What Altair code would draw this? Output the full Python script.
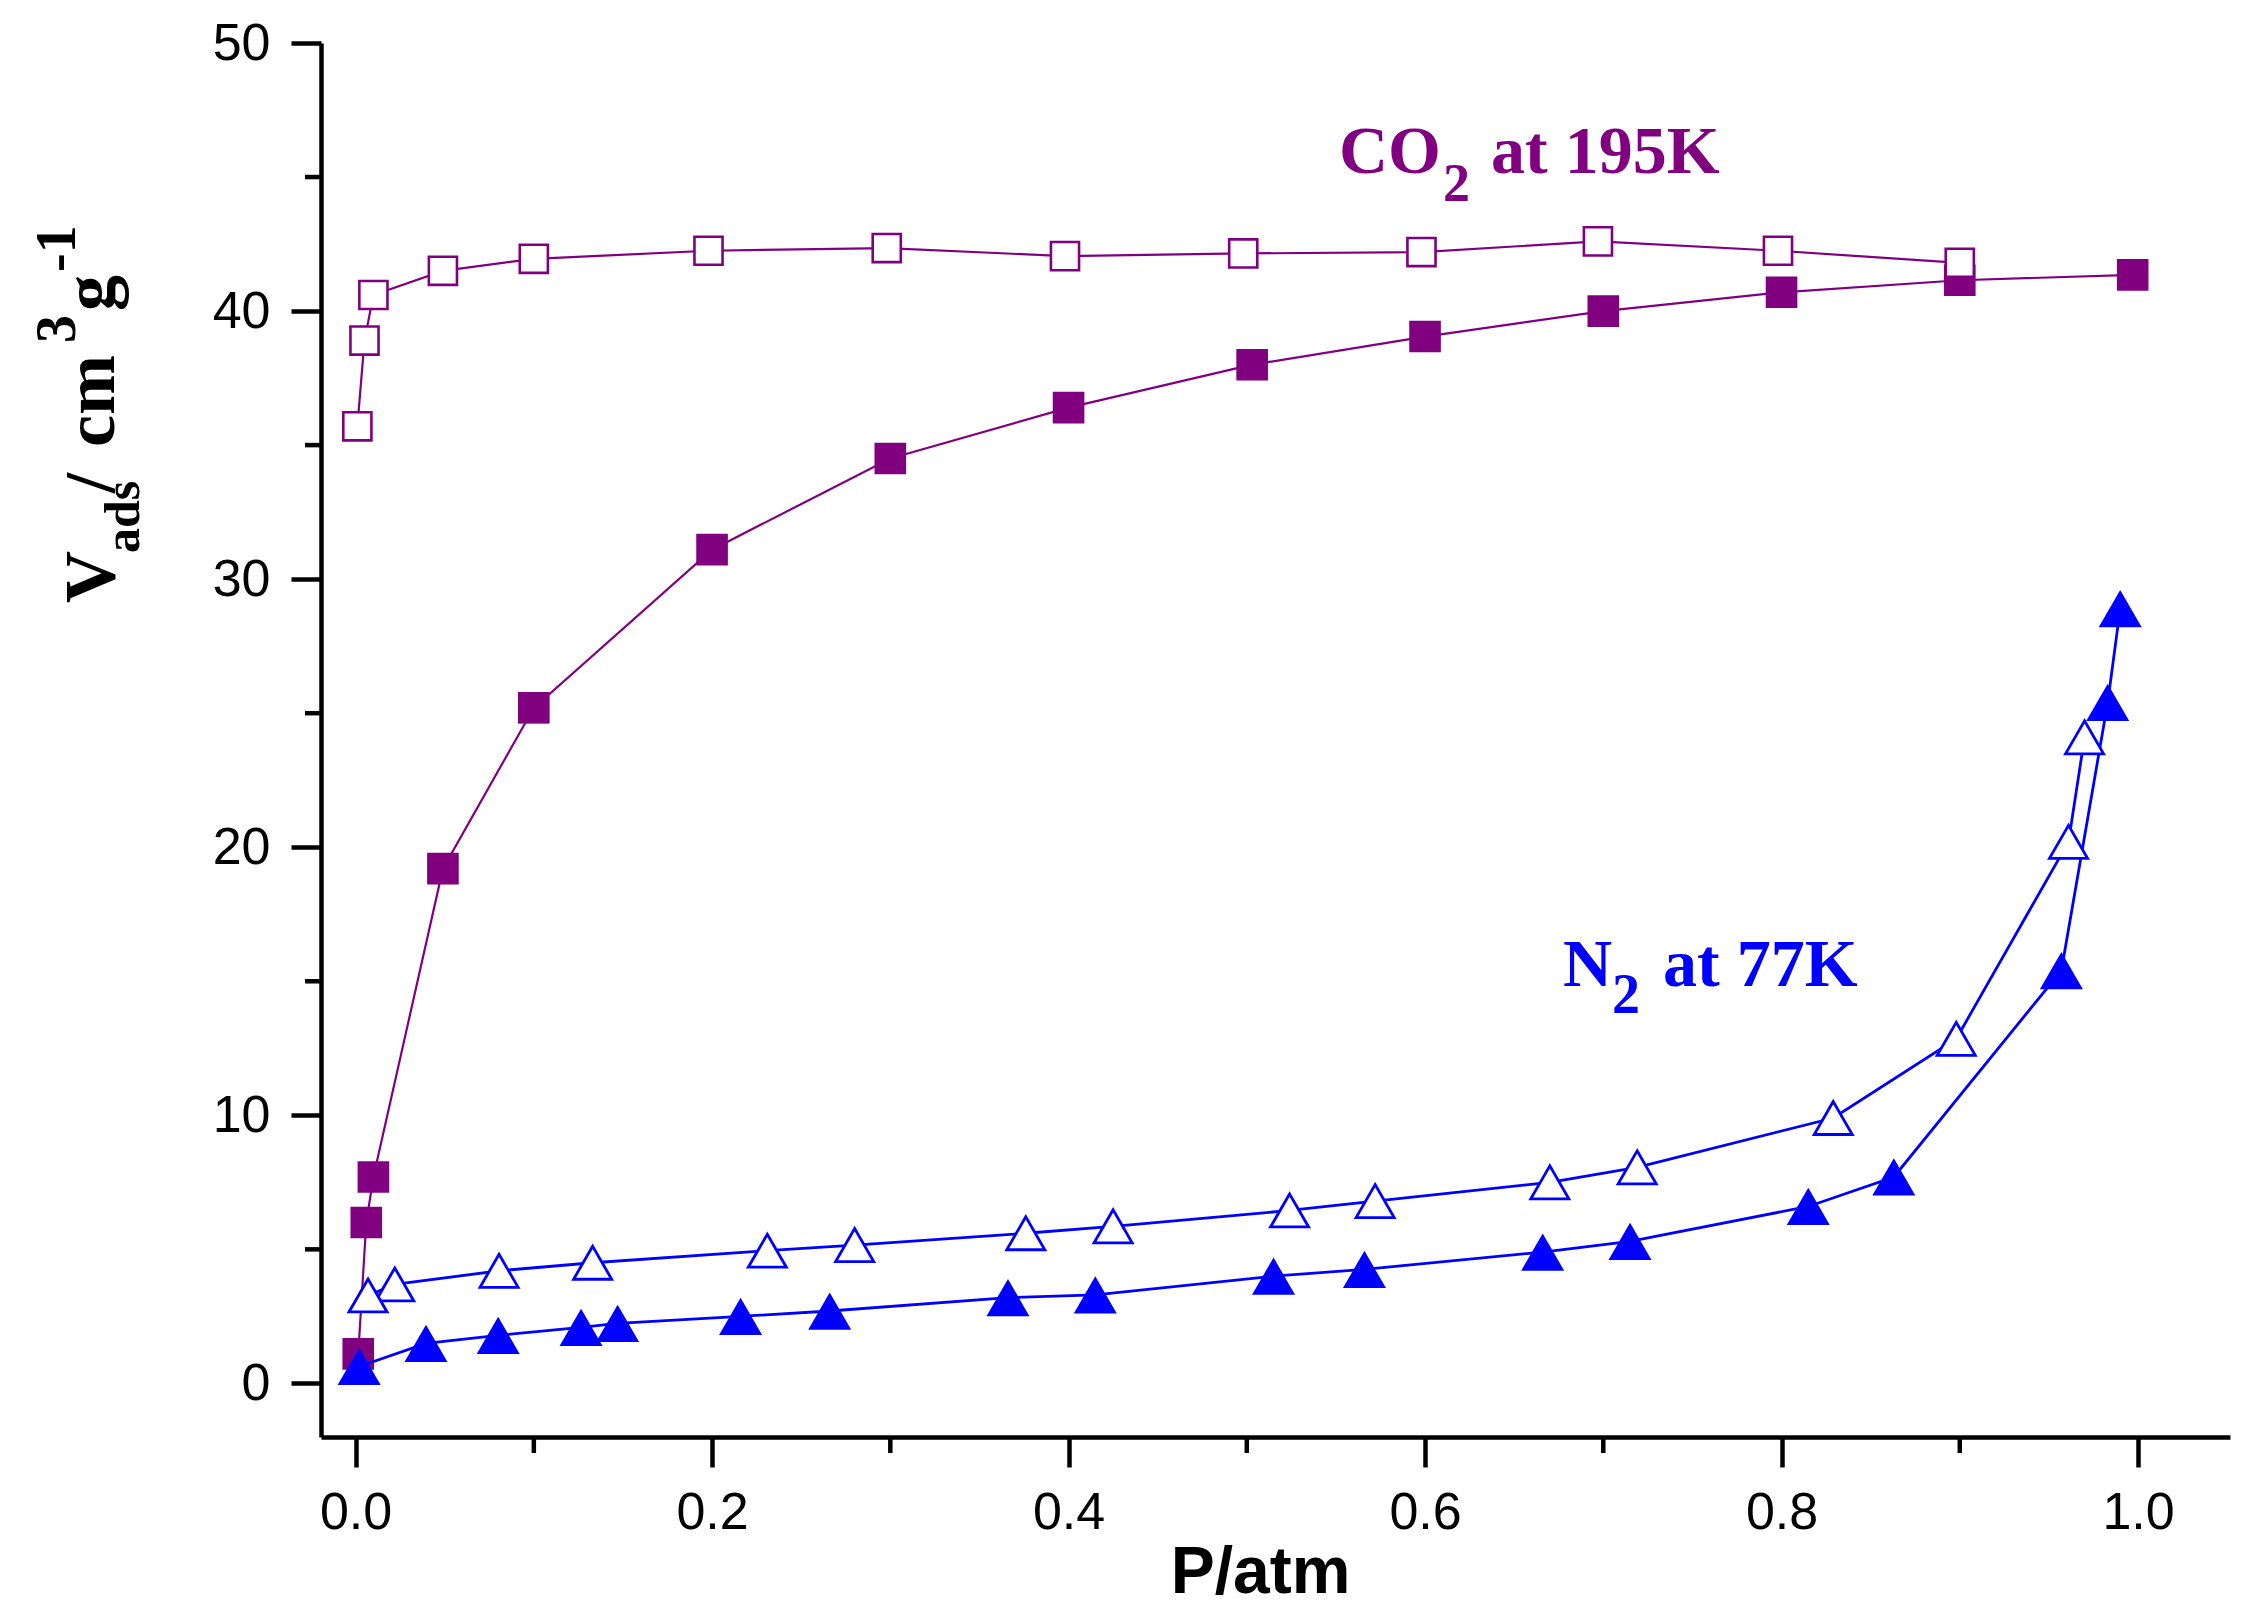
import altair as alt
import pandas as pd

# ---------------- data ----------------
co2_ads_p = [0.0015, 0.006, 0.010, 0.049, 0.100, 0.200, 0.300, 0.400, 0.503, 0.600, 0.700, 0.800, 0.900, 0.997]
co2_ads_v = [1.1, 6.0, 7.7, 19.2, 25.2, 31.1, 34.5, 36.4, 38.0, 39.05, 40.0, 40.7, 41.15, 41.35]

co2_des_p = [0.900, 0.798, 0.697, 0.598, 0.498, 0.398, 0.298, 0.198, 0.100, 0.049, 0.010, 0.005, 0.001]
co2_des_v = [41.8, 42.25, 42.6, 42.2, 42.15, 42.05, 42.35, 42.25, 41.95, 41.5, 40.6, 38.9, 35.7]

n2_ads_p = [0.002, 0.0395, 0.080, 0.1265, 0.147, 0.216, 0.266, 0.366, 0.415, 0.515, 0.566, 0.666, 0.715,
            0.815, 0.863, 0.957, 0.983, 0.990]
n2_ads_v = [0.63, 1.49, 1.79, 2.09, 2.24, 2.5, 2.7, 3.2, 3.3, 4.0, 4.25, 4.9, 5.3,
            6.6, 7.7, 15.4, 25.4, 28.9]

n2_des_p = [0.970, 0.961, 0.898, 0.829, 0.719, 0.670, 0.572, 0.524, 0.425, 0.376, 0.280, 0.231, 0.133,
            0.0805, 0.022, 0.007]
n2_des_v = [24.1, 20.2, 12.85, 9.9, 8.06, 7.5, 6.8, 6.45, 5.86, 5.6, 5.16, 4.95, 4.5,
            4.2, 3.69, 3.28]

x_ticks = [0.0, 0.2, 0.4, 0.6, 0.8, 1.0]
x_minor = [0.1, 0.3, 0.5, 0.7, 0.9]
y_ticks = [0, 10, 20, 30, 40, 50]
y_minor = [5, 15, 25, 35, 45]

x_title = "P/atm"
co2_label = ["CO", "2", "at 195K"]
n2_label = ["N", "2", "at 77K"]
y_title = ["V", "ads", "/", "cm", "3", "g", "-1"]

# ---------------- styling ----------------
PURPLE = "#800080"
BLUE = "#0000FF"
W, H = 1909, 1394
SERIF = "Liberation Serif"
SANS = "Liberation Sans"

xscale = alt.Scale(domain=[-0.0194, 1.0516], nice=False, zero=False)
yscale = alt.Scale(domain=[-2, 50], nice=False, zero=False)

xaxis = alt.Axis(values=x_ticks, format=".1f", title=x_title,
                 titleFont=SANS, titleFontSize=66, titleFontWeight="bold", titleColor="black",
                 titleX=939, titleY=155, titleBaseline="alphabetic", titleAlign="center",
                 labelFont=SANS, labelFontSize=52, labelColor="black",
                 labelBaseline="alphabetic", labelPadding=61, labelFlush=False, labelOverlap=False,
                 tickSize=30, tickWidth=4.5, tickColor="black",
                 domainWidth=4.5, domainColor="black", grid=False)

yaxis = alt.Axis(values=y_ticks, format="d", title=None,
                 labelFont=SANS, labelFontSize=52, labelColor="black",
                 labelBaseline="middle", labelPadding=21, labelFlush=False, labelOverlap=False,
                 tickSize=30, tickWidth=4.5, tickColor="black",
                 domainWidth=4.5, domainColor="black", grid=False)

X = alt.X("p:Q", scale=xscale, axis=xaxis)
Y = alt.Y("v:Q", scale=yscale, axis=yaxis)


def series(p, v, color, shape, filled, size, lw, sw):
    df = pd.DataFrame({"p": p, "v": v, "i": list(range(len(p)))})
    base = alt.Chart(df)
    line = base.mark_line(color=color, strokeWidth=lw).encode(x=X, y=Y, order="i:Q")
    if filled:
        pts = base.mark_point(shape=shape, size=size, filled=True, fill=color,
                              opacity=1, strokeWidth=0)
    else:
        pts = base.mark_point(shape=shape, size=size, filled=True, fill="white",
                              stroke=color, strokeWidth=sw, opacity=1)
    pts = pts.encode(x=X, y=Y)
    return [line, pts]


def label(txt, dx, dy, size, color, angle=0):
    df = pd.DataFrame({"t": [txt]})
    return alt.Chart(df).mark_text(align="left", baseline="alphabetic", font=SERIF,
                                   fontWeight="bold", fontSize=size, color=color,
                                   angle=angle).encode(
        x=alt.value(dx), y=alt.value(dy), text="t:N")


layers = []
layers += series(co2_ads_p, co2_ads_v, PURPLE, "square", True, 1000, 2.2, 0)
layers += series(co2_des_p, co2_des_v, PURPLE, "square", False, 790, 2.2, 2.6)
layers += series(n2_ads_p, n2_ads_v, BLUE, "triangle-up", True, 1850, 2.8, 0)
layers += series(n2_des_p, n2_des_v, BLUE, "triangle-up", False, 1450, 2.8, 2.8)

# minor ticks (same shared scales and axes)
ymin = alt.Chart(pd.DataFrame({"v": y_minor})).mark_rule(color="black", strokeWidth=4.5).encode(
    y=Y, x=alt.value(-16), x2=alt.value(0))
xmin = alt.Chart(pd.DataFrame({"p": x_minor})).mark_rule(color="black", strokeWidth=4.5).encode(
    x=X, y=alt.value(H), y2=alt.value(H + 16))
layers += [ymin, xmin]

# annotations
layers += [
    label(co2_label[0], 1018, 130, 68, PURPLE),
    label(co2_label[1], 1122, 158, 54, PURPLE),
    label(co2_label[2], 1170, 130, 68, PURPLE),
    label(n2_label[0], 1242, 943, 68, BLUE),
    label(n2_label[1], 1291, 970, 56, BLUE),
    label(n2_label[2], 1342, 943, 68, BLUE),
]

# rotated y-axis title built from pieces (sub/superscripts)
MAIN_X, SUB_X, SUP_X = -207, -182, -246
layers += [
    label(y_title[0], MAIN_X, 560, 72, "black", 270),
    label(y_title[1], SUB_X, 510, 50, "black", 270),
    label(y_title[2], MAIN_X, 450, 72, "black", 270),
    label(y_title[3], MAIN_X, 404, 72, "black", 270),
    label(y_title[4], SUP_X, 300, 56, "black", 270),
    label(y_title[5], MAIN_X, 268, 72, "black", 270),
    label(y_title[6], SUP_X, 229, 56, "black", 270),
]

chart = alt.layer(*layers).properties(
    width=W, height=H,
    autosize=alt.AutoSizeParams(type="none"),
    padding={"left": 313, "top": 35, "right": 14, "bottom": 170},
    background="white",
).configure_view(strokeWidth=0)

chart.save("out.html", embed_options={"renderer": "svg", "actions": False})
